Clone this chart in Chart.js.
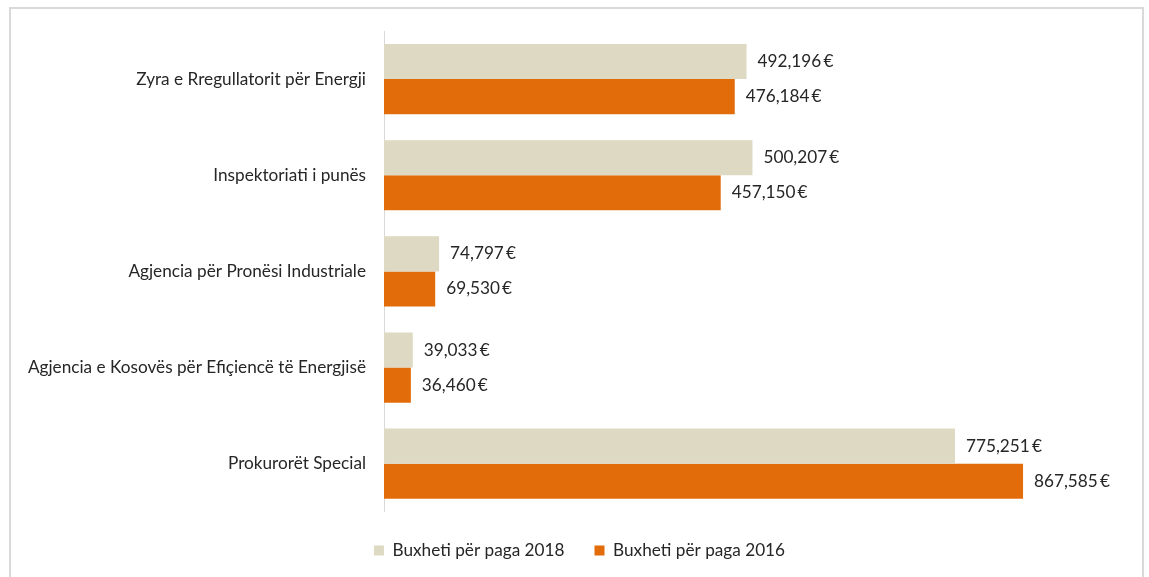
<!DOCTYPE html>
<html>
<head>
<meta charset="utf-8">
<script src="https://cdn.jsdelivr.net/npm/chart.js@4"></script>
<style>
  html, body { margin: 0; padding: 0; background: #fff; overflow: hidden; }
  #frame { position: absolute; left: 9px; top: 7px; width: 1135px; height: 600px; border: 2px solid #d9d9d9; box-sizing: border-box; }
  #budgetChart { position: absolute; left: 0; top: 0; }
</style>
</head>
<body>
<div id="frame"></div>
<canvas id="budgetChart" width="1149" height="577"></canvas>
<script>
// Datos
const categories = [
    'Zyra e Rregullatorit për Energji',
    'Inspektoriati i punës',
    'Agjencia për Pronësi Industriale',
    'Agjencia e Kosovës për Efiçiencë të Energjisë',
    'Prokurorët Special'
];
const seriesNames = ['Buxheti për paga 2018', 'Buxheti për paga 2016'];
const paga2018 = [492196, 500207, 74797, 39033, 775251];
const paga2016 = [476184, 457150, 69530, 36460, 867585];
const colors = ['#ddd9c3', '#e36c0a'];

const fontFamily = 'Lato, "Open Sans", sans-serif';
const fontSize = 17.2;

// Etiquetas de valor al final de cada barra
const valueLabels = {
    id: 'valueLabels',
    afterDatasetsDraw(chart) {
        const ctx = chart.ctx;
        ctx.save();
        ctx.font = fontSize + 'px ' + fontFamily;
        ctx.fillStyle = '#262626';
        ctx.textBaseline = 'middle';
        ctx.textAlign = 'left';
        chart.data.datasets.forEach((ds, i) => {
            chart.getDatasetMeta(i).data.forEach((bar, j) => {
                const txt = ds.data[j].toLocaleString('en-US') + '\u2009€';
                ctx.fillText(txt, bar.x + 11, bar.y);
            });
        });
        ctx.restore();
    }
};

new Chart(document.getElementById('budgetChart').getContext('2d'), {
    type: 'bar',
    data: {
        labels: categories,
        datasets: [
            { label: seriesNames[0], data: paga2018, backgroundColor: colors[0] },
            { label: seriesNames[1], data: paga2016, backgroundColor: colors[1] }
        ]
    },
    options: {
        responsive: false,
        animation: false,
        indexAxis: 'y',
        devicePixelRatio: 1,
        layout: { padding: { top: 31, right: 10, bottom: 8, left: 20 } },
        datasets: { bar: { categoryPercentage: 0.73, barPercentage: 1 } },
        scales: {
            x: { display: false, min: 0, max: 1025000 },
            y: {
                grid: { display: false },
                border: { display: true, color: '#d9d9d9', width: 1 },
                ticks: { color: '#262626', font: { size: fontSize, family: fontFamily }, padding: 10 },
                afterFit(scale) { scale.width = 384 - 20; }
            }
        },
        plugins: {
            legend: {
                position: 'bottom',
                labels: {
                    color: '#262626',
                    font: { size: fontSize, family: fontFamily },
                    boxWidth: 10,
                    boxHeight: 10,
                    padding: 30
                }
            },
            tooltip: { enabled: false }
        }
    },
    plugins: [valueLabels]
});
</script>
</body>
</html>
